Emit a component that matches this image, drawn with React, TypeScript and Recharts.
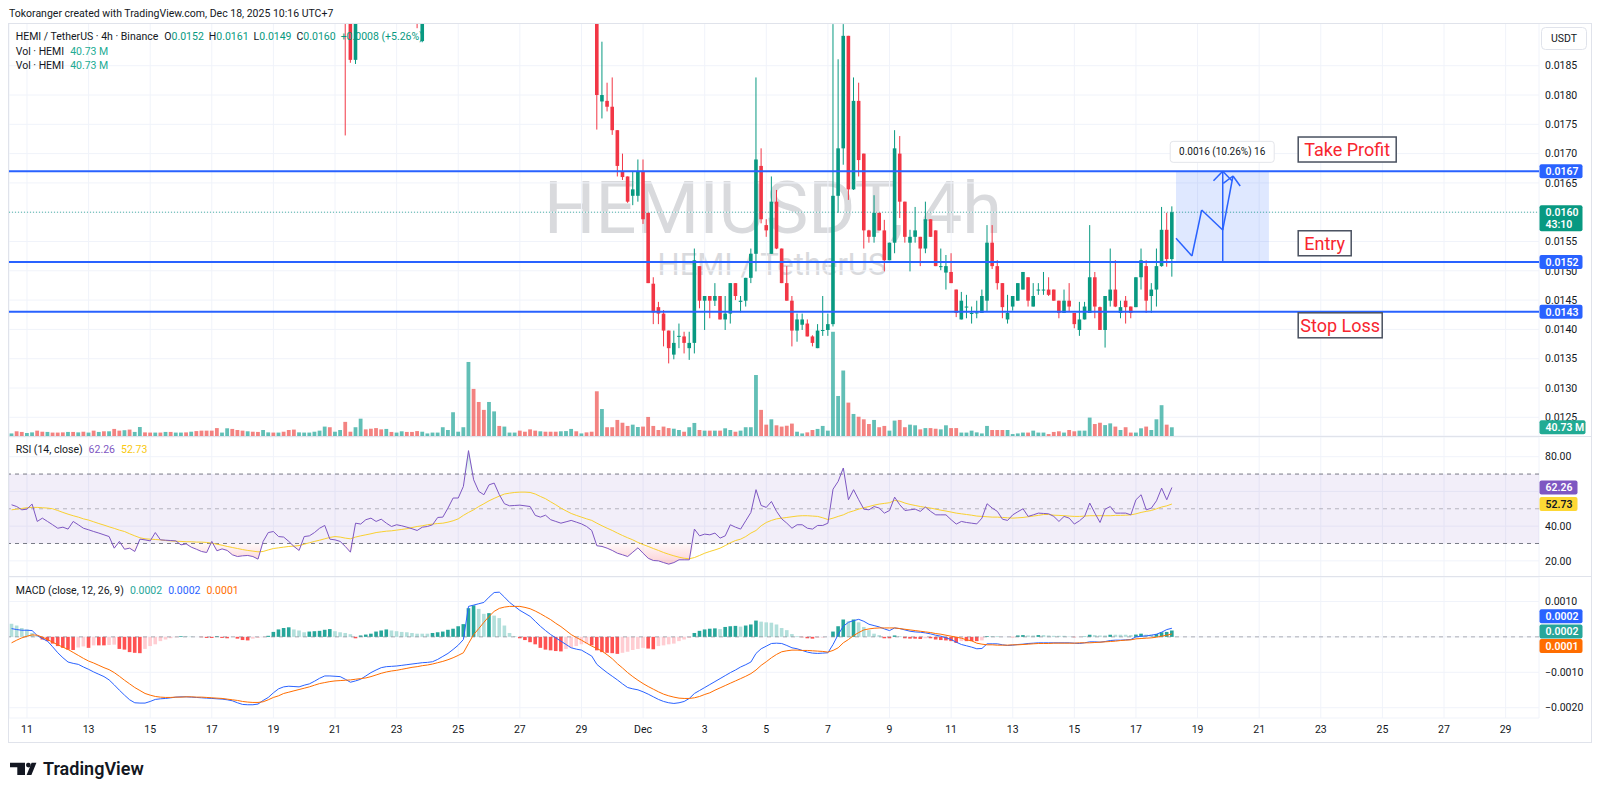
import React from 'react';
import {
  ComposedChart,
  Bar,
  Line,
  Area,
  XAxis,
  YAxis,
  CartesianGrid,
  ReferenceLine,
  ReferenceArea,
  ReferenceDot,
} from 'recharts';

const FONT = 'Roboto, "Noto Sans", Arial, sans-serif';
const INK = '#131722';
const UP = '#089981';
const DOWN = '#f23645';
const BLUE = '#2962ff';
const GRID = '#f0f3fa';
const BORDER = '#e0e3eb';

// time axis: one slot per 4h bar, slot 0 = Nov 10 15:00 (UTC+7)
const SLOTS = 298;
const dayTicks = [3, 15, 27, 39, 51, 63, 75, 87, 99, 111, 123, 135, 147, 159, 171, 183, 195, 207, 219, 231, 243, 255, 267, 279, 291];
const dayLabels = ['11', '13', '15', '17', '19', '21', '23', '25', '27', '29', 'Dec', '3', '5', '7', '9', '11', '13', '15', '17', '19', '21', '23', '25', '27', '29'];

// volume in millions, bars 0..226
const volumes = [
  12, 22, 19, 14, 17, 25, 20, 19, 16, 16,
  17, 19, 19, 17, 20, 16, 25, 19, 22, 22,
  33, 25, 27, 30, 19, 42, 17, 16, 16, 16,
  19, 19, 16, 16, 17, 20, 23, 25, 25, 25,
  37, 16, 36, 33, 28, 25, 22, 20, 19, 28,
  17, 16, 16, 20, 28, 30, 17, 16, 16, 20,
  25, 44, 41, 20, 28, 66, 20, 41, 81, 31,
  34, 37, 31, 33, 19, 16, 22, 19, 19, 23,
  20, 12, 16, 16, 41, 28, 111, 20, 41, 346,
  220, 159, 122, 159, 115, 47, 44, 16, 16, 25,
  20, 31, 25, 22, 20, 20, 20, 22, 23, 33,
  22, 12, 17, 20, 209, 126, 41, 41, 75, 62,
  47, 53, 42, 44, 89, 47, 28, 44, 37, 34,
  28, 20, 41, 61, 28, 25, 25, 25, 25, 36,
  28, 20, 25, 41, 41, 285, 122, 53, 78, 50,
  44, 48, 58, 20, 12, 17, 28, 33, 47, 25,
  487, 187, 306, 156, 103, 90, 78, 56, 75, 41,
  47, 25, 72, 75, 41, 53, 50, 31, 37, 37,
  34, 31, 50, 37, 37, 16, 16, 25, 17, 12,
  47, 28, 28, 28, 28, 9, 12, 16, 16, 25,
  16, 16, 9, 19, 22, 16, 28, 22, 25, 25,
  86, 56, 62, 51, 59, 44, 28, 41, 16, 16,
  36, 44, 28, 78, 144, 53, 40.73,
];
// u = up bar, d = down bar
const volSides =
  'udduuddudd' + 'dududududu' + 'dduduuddud' + 'uduududddd' + 'duuddduddu' +
  'ududdduuuu' + 'uuduudduud' + 'ddduduuddd' + 'uuuuuuuuuu' + 'ddduuduuud' +
  'ddduddduuu' + 'dudddudddd' + 'duuddddddu' + 'uduudududu' + 'uduuuuddud' +
  'ddduudduuu' + 'uuududddud' + 'duudduudud' + 'duudduuuuu' + 'uddduuuudu' +
  'uudddudduu' + 'udduududdu' + 'uduuudu';

// candles [open, high, low, close]; most of Nov 21-29 sits above the visible range
const earlyBarIdx = [65, 66, 67, 79, 80];
const earlyBars = [
  [0.0201, 0.0203, 0.01731, 0.0197],
  [0.0196, 0.0198, 0.01855, 0.0186],
  [0.0186, 0.0198, 0.01853, 0.0196],
  [0.0198, 0.02, 0.01914, 0.0195],
  [0.01892, 0.0199, 0.0189, 0.0197],
];
const candleFrom = 114;
const candles = [
  [0.0196, 0.0198, 0.01741, 0.018], [0.01789, 0.01891, 0.0176, 0.018], [0.0179, 0.01821, 0.01772, 0.0178],
  [0.0178, 0.0183, 0.01732, 0.0174], [0.0174, 0.0174, 0.01661, 0.01679], [0.01669, 0.017, 0.01655, 0.0166],
  [0.01661, 0.01661, 0.01616, 0.01618], [0.01628, 0.01669, 0.01612, 0.01639], [0.01628, 0.0169, 0.01618, 0.01669],
  [0.01669, 0.0169, 0.0158, 0.01588], [0.01599, 0.01599, 0.01479, 0.01479], [0.01478, 0.01489, 0.01409, 0.01429],
  [0.01438, 0.01447, 0.01409, 0.01427], [0.01427, 0.01433, 0.01371, 0.01398], [0.01398, 0.01398, 0.01342, 0.01368],
  [0.01357, 0.01398, 0.01349, 0.01377], [0.01388, 0.0141, 0.01368, 0.01389], [0.01388, 0.01396, 0.01359, 0.01377],
  [0.01368, 0.01396, 0.01348, 0.01377], [0.01377, 0.01538, 0.01359, 0.01518], [0.01508, 0.01508, 0.01436, 0.01449],
  [0.01449, 0.01457, 0.01399, 0.01457], [0.01457, 0.01457, 0.01419, 0.01449], [0.01449, 0.01479, 0.0144, 0.01457],
  [0.01457, 0.01457, 0.01417, 0.01417], [0.01417, 0.01457, 0.01399, 0.01427], [0.01427, 0.01479, 0.0141, 0.01479],
  [0.01479, 0.01479, 0.0145, 0.01457], [0.01447, 0.01457, 0.01429, 0.01449], [0.01449, 0.01488, 0.01439, 0.01488],
  [0.01488, 0.01538, 0.01479, 0.01529], [0.01529, 0.0183, 0.01499, 0.0169], [0.01679, 0.01709, 0.01581, 0.01588],
  [0.01578, 0.01588, 0.01558, 0.01569], [0.01529, 0.01661, 0.01529, 0.01618], [0.01618, 0.01638, 0.01537, 0.01538],
  [0.01538, 0.01538, 0.01479, 0.01479], [0.01479, 0.01508, 0.01449, 0.01449], [0.01449, 0.01457, 0.01371, 0.01398],
  [0.01398, 0.01427, 0.01379, 0.01417], [0.01408, 0.01427, 0.01399, 0.01417], [0.0141, 0.01417, 0.01388, 0.01388],
  [0.01388, 0.0139, 0.01371, 0.01377], [0.01368, 0.01409, 0.01368, 0.01398], [0.01398, 0.01457, 0.01389, 0.01399],
  [0.01399, 0.01427, 0.01389, 0.01409], [0.01409, 0.01921, 0.01405, 0.01628], [0.01628, 0.01861, 0.01599, 0.01709],
  [0.01709, 0.01921, 0.01681, 0.01901], [0.01901, 0.01901, 0.01621, 0.01639], [0.01639, 0.0183, 0.01638, 0.0179],
  [0.0179, 0.01821, 0.01661, 0.01689], [0.017, 0.017, 0.01538, 0.01569], [0.01569, 0.0157, 0.01548, 0.01558],
  [0.01558, 0.01629, 0.01548, 0.01599], [0.01599, 0.01599, 0.01569, 0.01569], [0.01569, 0.01587, 0.01499, 0.01518],
  [0.01518, 0.01548, 0.01518, 0.01548], [0.01548, 0.0174, 0.0153, 0.01709], [0.017, 0.0173, 0.0159, 0.01618],
  [0.01618, 0.01618, 0.01548, 0.01558], [0.01548, 0.0157, 0.01499, 0.01558], [0.01558, 0.01609, 0.01548, 0.01569],
  [0.01558, 0.01558, 0.01508, 0.01538], [0.01538, 0.01618, 0.0153, 0.01588], [0.01588, 0.01588, 0.01558, 0.01558],
  [0.01569, 0.01569, 0.01508, 0.01508], [0.01507, 0.01538, 0.01501, 0.01508], [0.01497, 0.01527, 0.01468, 0.01508],
  [0.01498, 0.0153, 0.01479, 0.01479], [0.01468, 0.01468, 0.01421, 0.01428], [0.01417, 0.01464, 0.01417, 0.01449],
  [0.01438, 0.01459, 0.01419, 0.01439], [0.01428, 0.01439, 0.0141, 0.01428], [0.01428, 0.01449, 0.01419, 0.01429],
  [0.01428, 0.01468, 0.01428, 0.01457], [0.01449, 0.01578, 0.0143, 0.01548], [0.01548, 0.01578, 0.01503, 0.01508],
  [0.01508, 0.01518, 0.01468, 0.01479], [0.01479, 0.01479, 0.01419, 0.01438], [0.01417, 0.01459, 0.0141, 0.01428],
  [0.01439, 0.01457, 0.01432, 0.01457], [0.01449, 0.01479, 0.01449, 0.01479], [0.01468, 0.01498, 0.01468, 0.01498],
  [0.01489, 0.01489, 0.01439, 0.01449], [0.01439, 0.01479, 0.01439, 0.01457], [0.01467, 0.01479, 0.01459, 0.01468],
  [0.01467, 0.01498, 0.01459, 0.01468], [0.01468, 0.01489, 0.01457, 0.01459], [0.01468, 0.01468, 0.01449, 0.01449],
  [0.01449, 0.01449, 0.01419, 0.01428], [0.01428, 0.01468, 0.01428, 0.01449], [0.01449, 0.01479, 0.0143, 0.01439],
  [0.01428, 0.01428, 0.01402, 0.01409], [0.01399, 0.01447, 0.01389, 0.01417], [0.01417, 0.01447, 0.01417, 0.01439],
  [0.01428, 0.01578, 0.01428, 0.01489], [0.01489, 0.01498, 0.01419, 0.01439], [0.01438, 0.01439, 0.01399, 0.01399],
  [0.01399, 0.01457, 0.01369, 0.01457], [0.01449, 0.01538, 0.01439, 0.01468], [0.01468, 0.01518, 0.01438, 0.01439],
  [0.01428, 0.01449, 0.01419, 0.01438], [0.01449, 0.01457, 0.0141, 0.01438], [0.01439, 0.01439, 0.01419, 0.01428],
  [0.01438, 0.01489, 0.01438, 0.01489], [0.01489, 0.01538, 0.01468, 0.01518], [0.01508, 0.01518, 0.01428, 0.01449],
  [0.01457, 0.01479, 0.01428, 0.01468], [0.01468, 0.01538, 0.01439, 0.01508], [0.01508, 0.01609, 0.01507, 0.0157],
  [0.0157, 0.01599, 0.01507, 0.0152], [0.0152, 0.0161, 0.0149, 0.016],
];

const rsi = [
  52.3, 51.3, 49.4, 49.8, 52.7, 42.7, 44.6, 42.7, 40.8, 38.8,
  39.4, 38.3, 42.7, 40.8, 38.8, 37.9, 36.9, 36.0, 35.0, 34.0,
  27.3, 31.2, 26.7, 27.3, 25.4, 32.5, 32.1, 31.5, 36.3, 32.1,
  31.9, 31.7, 31.5, 29.2, 29.8, 27.9, 26.7, 25.4, 24.8, 31.2,
  25.8, 26.9, 26.0, 23.5, 22.5, 22.9, 23.1, 22.5, 21.0, 31.2,
  36.3, 36.9, 34.0, 33.7, 31.2, 28.3, 26.0, 34.0, 34.4, 36.3,
  38.8, 40.4, 32.5, 32.1, 31.2, 28.3, 25.0, 41.7, 41.2, 43.7,
  44.6, 42.7, 44.0, 41.7, 39.8, 40.8, 40.2, 39.4, 38.5, 37.5,
  39.4, 39.8, 40.8, 45.0, 45.2, 50.4, 56.2, 56.2, 62.9, 83.5,
  66.7, 60.0, 58.1, 63.8, 64.8, 58.1, 52.9, 51.7, 51.9, 52.1,
  51.7, 51.3, 46.2, 45.2, 46.3, 43.7, 42.7, 41.7, 42.5, 43.3,
  42.3, 41.3, 39.8, 37.5, 28.7, 28.3, 27.3, 26.0, 24.4, 23.5,
  22.5, 25.0, 27.5, 24.4, 21.5, 20.2, 20.0, 19.0, 18.1, 19.0,
  20.6, 20.6, 20.6, 38.3, 34.4, 35.4, 35.0, 36.0, 33.1, 34.4,
  40.8, 39.4, 38.3, 43.1, 47.9, 61.0, 51.9, 50.8, 54.2, 48.5,
  44.2, 41.7, 38.8, 40.8, 40.8, 38.8, 38.3, 40.4, 40.4, 41.7,
  61.3, 65.8, 73.5, 55.2, 61.0, 55.2, 49.8, 49.4, 51.3, 50.4,
  47.5, 49.0, 56.7, 52.3, 49.0, 49.4, 49.8, 48.5, 51.0, 48.5,
  46.5, 46.5, 46.5, 43.7, 41.2, 42.7, 42.1, 41.7, 41.3, 44.6,
  52.9, 50.4, 48.5, 44.0, 43.3, 46.5, 48.3, 50.0, 45.6, 46.5,
  47.5, 47.3, 47.1, 45.6, 42.7, 45.6, 44.6, 41.2, 43.1, 45.6,
  53.3, 47.5, 42.1, 49.8, 51.3, 47.5, 47.5, 47.5, 46.5, 55.2,
  58.1, 49.4, 50.4, 54.6, 61.9, 55.2, 62.26,
];

const rsiMa = [
  49.4, 49.8, 50.2, 50.6, 50.8, 50.8, 50.6, 50.4, 50.0, 49.0,
  47.9, 46.9, 46.0, 45.2, 44.2, 43.5, 42.5, 41.5, 40.6, 39.6,
  38.7, 37.7, 36.9, 35.6, 34.4, 33.3, 32.7, 32.5, 32.3, 32.1,
  31.7, 31.5, 31.3, 31.2, 31.0, 31.0, 30.8, 30.8, 30.6, 30.2,
  29.6, 29.0, 28.3, 27.7, 27.1, 26.5, 26.0, 25.6, 25.2, 25.4,
  26.3, 27.1, 27.5, 27.9, 28.3, 28.5, 28.8, 29.6, 30.4, 31.2,
  31.9, 32.7, 33.5, 34.0, 33.7, 33.1, 32.7, 33.7, 34.4, 35.0,
  35.6, 36.3, 36.7, 37.1, 37.3, 37.7, 38.1, 38.5, 39.2, 39.8,
  40.2, 40.8, 41.2, 41.5, 41.7, 42.3, 43.1, 44.2, 46.2, 47.9,
  49.4, 51.3, 52.9, 54.6, 56.0, 57.3, 58.5, 59.0, 59.4, 59.6,
  59.6, 59.4, 58.5, 57.1, 55.8, 54.0, 52.3, 50.4, 48.8, 47.3,
  46.2, 45.2, 44.2, 43.3, 41.7, 40.2, 38.8, 37.5, 36.0, 34.6,
  33.3, 32.1, 30.6, 29.4, 28.3, 27.1, 26.0, 24.8, 23.8, 22.9,
  22.1, 21.5, 21.2, 21.9, 23.1, 24.4, 25.4, 26.3, 27.3, 28.8,
  30.4, 31.7, 32.5, 34.0, 36.0, 37.5, 40.2, 42.1, 43.3, 44.2,
  44.6, 45.0, 45.4, 45.8, 46.0, 46.0, 45.8, 45.6, 44.8, 43.8,
  44.6, 45.6, 46.5, 47.9, 48.8, 49.8, 50.6, 51.3, 52.1, 52.7,
  53.1, 53.5, 54.8, 54.4, 53.3, 52.5, 51.9, 51.3, 50.8, 50.4,
  49.8, 49.2, 48.7, 48.1, 47.5, 47.1, 46.7, 46.3, 45.8, 45.6,
  45.4, 45.2, 45.2, 45.0, 44.8, 44.6, 44.8, 45.0, 45.4, 45.8,
  46.2, 46.7, 46.7, 46.3, 46.2, 46.0, 45.8, 45.6, 45.6, 45.8,
  46.0, 46.0, 46.0, 46.0, 46.0, 46.2, 46.2, 46.3, 46.5, 47.1,
  47.9, 48.5, 49.0, 50.0, 51.0, 51.7, 52.73,
];

const macd = [
  0.000234, 0.000206, 0.000187, 0.000187, 0.000178, 0.000037, -0.000047, -0.000121, -0.00028, -0.000449,
  -0.000589, -0.00071, -0.000748, -0.000776, -0.00085, -0.000916, -0.000991, -0.001056, -0.001121, -0.001215,
  -0.001355, -0.001505, -0.001645, -0.001776, -0.00186, -0.001869, -0.001869, -0.001823, -0.001766, -0.001748,
  -0.001738, -0.00172, -0.001701, -0.001692, -0.001692, -0.001701, -0.00171, -0.00172, -0.001729, -0.001738,
  -0.001748, -0.001757, -0.001776, -0.001804, -0.00186, -0.001907, -0.001916, -0.001916, -0.001897, -0.001794,
  -0.00171, -0.001579, -0.001467, -0.001411, -0.001393, -0.001402, -0.001411, -0.001364, -0.001327, -0.001252,
  -0.001168, -0.001103, -0.001103, -0.001112, -0.001122, -0.001196, -0.00128, -0.001243, -0.001196, -0.001103,
  -0.001009, -0.000935, -0.000869, -0.000841, -0.000832, -0.000822, -0.000804, -0.000785, -0.000766, -0.000748,
  -0.000729, -0.00072, -0.000701, -0.000636, -0.000551, -0.000467, -0.000355, -0.000234, -0.000075, 0.00086,
  0.000897, 0.000935, 0.000972, 0.001122, 0.001252, 0.001262, 0.001122, 0.000972, 0.00086, 0.000748,
  0.000664, 0.000579, 0.000439, 0.000299, 0.000178, 0.000065, -0.000028, -0.000121, -0.000215, -0.000308,
  -0.000346, -0.000374, -0.000458, -0.000542, -0.000776, -0.000897, -0.001009, -0.001112, -0.001215, -0.001327,
  -0.00143, -0.001467, -0.001495, -0.001551, -0.001617, -0.001692, -0.001766, -0.001823, -0.00186, -0.001879,
  -0.00186, -0.001823, -0.001738, -0.001598, -0.001514, -0.00143, -0.001346, -0.001262, -0.001178, -0.001093,
  -0.001009, -0.000935, -0.00085, -0.000785, -0.00071, -0.000467, -0.000336, -0.000262, -0.000187, -0.000178,
  -0.000187, -0.000243, -0.000308, -0.000336, -0.000383, -0.00043, -0.000458, -0.000467, -0.000458, -0.000449,
  -0.000215, 0.000065, 0.000299, 0.000411, 0.000458, 0.000495, 0.000439, 0.000355, 0.000318, 0.00028,
  0.000224, 0.000178, 0.000252, 0.000234, 0.000196, 0.000159, 0.00014, 0.000131, 0.000112, 0.000084,
  0.000047, 0.000019, -0.000028, -0.000075, -0.00015, -0.000215, -0.000252, -0.00029, -0.000336, -0.000327,
  -0.000196, -0.000196, -0.000196, -0.000224, -0.000243, -0.000234, -0.000215, -0.000206, -0.000187, -0.000178,
  -0.000168, -0.000168, -0.000168, -0.000168, -0.000168, -0.000168, -0.000168, -0.000178, -0.000187, -0.000168,
  -0.00014, -0.00014, -0.00015, -0.000131, -0.000103, -0.000093, -0.000093, -0.000084, -0.000075, 0,
  0.000019, 0.000028, 0.000047, 0.000075, 0.000131, 0.000206, 0.000243,
];

const signal = [
  -0.000168, -0.000093, -0.000028, 0.000019, 0.000056, 0.000047, -0.000009, -0.000075, -0.00015, -0.000224,
  -0.00029, -0.000355, -0.000439, -0.000523, -0.000607, -0.000682, -0.000738, -0.000804, -0.000869, -0.000925,
  -0.001009, -0.001112, -0.001224, -0.001327, -0.00143, -0.001514, -0.001598, -0.001645, -0.001682, -0.001701,
  -0.00171, -0.00171, -0.001701, -0.001701, -0.001692, -0.001692, -0.001701, -0.001701, -0.00171, -0.00172,
  -0.001729, -0.001738, -0.001757, -0.001776, -0.001794, -0.001823, -0.001841, -0.001851, -0.001851, -0.001832,
  -0.001776, -0.00171, -0.001664, -0.001598, -0.001561, -0.001523, -0.001486, -0.001449, -0.001411, -0.001364,
  -0.001318, -0.00129, -0.001262, -0.001243, -0.001234, -0.001224, -0.001215, -0.001196, -0.001178, -0.001159,
  -0.001122, -0.001075, -0.001028, -0.000991, -0.000963, -0.000944, -0.000916, -0.000888, -0.00086, -0.000841,
  -0.000813, -0.000794, -0.000766, -0.000729, -0.000692, -0.000645, -0.000589, -0.000523, -0.000449, -0.000187,
  0.000065, 0.000234, 0.000411, 0.000579, 0.00072, 0.000804, 0.000841, 0.00086, 0.00086, 0.00086,
  0.000832, 0.000794, 0.000729, 0.000654, 0.00057, 0.000486, 0.000383, 0.00029, 0.000178, 0.000065,
  -0.000019, -0.000093, -0.000178, -0.000262, -0.000327, -0.000402, -0.000505, -0.000617, -0.000757, -0.000879,
  -0.001009, -0.001122, -0.001224, -0.001318, -0.001402, -0.001477, -0.001551, -0.001617, -0.001664, -0.001701,
  -0.001729, -0.001738, -0.001738, -0.00172, -0.001682, -0.001626, -0.001579, -0.001505, -0.00144, -0.001374,
  -0.001308, -0.001243, -0.001178, -0.001112, -0.001037, -0.000935, -0.000804, -0.000701, -0.000589, -0.000495,
  -0.000421, -0.000393, -0.000374, -0.000374, -0.000383, -0.000383, -0.000393, -0.000402, -0.000411, -0.00043,
  -0.000383, -0.000308, -0.000168, -0.000075, 0.000037, 0.000122, 0.000196, 0.000224, 0.000243, 0.000252,
  0.000252, 0.000252, 0.000252, 0.000234, 0.000215, 0.000196, 0.000178, 0.000159, 0.00014, 0.000122,
  0.000093, 0.000075, 0.000047, 0.000019, -0.000009, -0.000037, -0.000084, -0.000112, -0.000178, -0.000206,
  -0.000224, -0.000224, -0.000234, -0.000234, -0.000234, -0.000224, -0.000224, -0.000215, -0.000206, -0.000196,
  -0.000187, -0.000187, -0.000187, -0.000178, -0.000178, -0.000178, -0.000178, -0.000178, -0.000168, -0.000168,
  -0.000168, -0.000159, -0.00015, -0.00014, -0.000131, -0.000121, -0.000103, -0.000093, -0.000084, -0.000056,
  -0.000047, -0.000037, -0.000028, -0.000009, 0.000019, 0.000047, 0.000084,
];

const hist = [
  0.00037, 0.00032, 0.00025, 0.00021, 0.00011, 0.00002, -0.000075, -0.00012, -0.00019, -0.00026,
  -0.00031, -0.00036, -0.00037, -0.0003, -0.00027, -0.00031, -0.00024, -0.00024, -0.00024, -0.00023,
  -0.00022, -0.00034, -0.00036, -0.00043, -0.00045, -0.00046, -0.00034, -0.00026, -0.00021, -0.00012,
  -0.000075, -0.000037, -0.00001, 0.00002, 0.00002, 0.00001, 0, -0.00001, -0.00003, -0.00003,
  0.00002, -0.00003, -0.00004, 0, -0.00005, -0.00009, -0.0001, -0.00005, -0.00003, -0.00001,
  0.00003, 0.00014, 0.00021, 0.00025, 0.00027, 0.00021, 0.00018, 0.00013, 0.00015, 0.00016,
  0.00017, 0.0002, 0.00022, 0.00016, 0.00013, 0.00011, 0.000075, -0.00004, 0.00004, 0.000065,
  0.00009, 0.00015, 0.00018, 0.00021, 0.00018, 0.00016, 0.00014, 0.00013, 0.00011, 0.00009,
  0.00009, 0.00009, 0.00011, 0.00013, 0.00015, 0.0002, 0.00023, 0.0003, 0.00036, 0.00081,
  0.00089, 0.00079, 0.00065, 0.00067, 0.0006, 0.00053, 0.00032, 0.00011, 0.00002, -0.00004,
  -0.00009, -0.00015, -0.00021, -0.00031, -0.00036, -0.00038, -0.0004, -0.00041, -0.00034, -0.00031,
  -0.00026, -0.00021, -0.00019, -0.00024, -0.00038, -0.00043, -0.00045, -0.00046, -0.00048, -0.00045,
  -0.00042, -0.00037, -0.00034, -0.00031, -0.00033, -0.00035, -0.00026, -0.00024, -0.00021, -0.00019,
  -0.00012, -0.000075, -0.00003, 0.00011, 0.00017, 0.00021, 0.00023, 0.00024, 0.00022, 0.00028,
  0.0003, 0.00031, 0.00029, 0.00032, 0.00035, 0.00046, 0.00043, 0.00041, 0.0004, 0.00035,
  0.00025, 0.00019, 0.00008, 0.00002, -0.00001, -0.00004, -0.00005, -0.00003, -0.00002, 0,
  0.00015, 0.0003, 0.00049, 0.00044, 0.00049, 0.00041, 0.00028, 0.00019, 0.00009, 0.00005,
  -0.00004, -0.00004, 0.00004, 0.00002, -0.00004, -0.00005, -0.00005, -0.00006, -0.00004, -0.00004,
  -0.000075, -0.00009, -0.0001, -0.00012, -0.00017, -0.00012, -0.00012, -0.00012, -0.00012, -0.0001,
  0.00002, 0.00002, 0.00002, 0, 0, -0.00001, 0.00004, 0.00005, 0.00004, 0.00004,
  0.00005, 0.00005, 0.00004, 0.00003, 0.00003, 0.00003, 0.00001, -0.00001, 0, 0.00001,
  0.00006, 0.00005, 0.00004, 0.00004, 0.00006, 0.00006, 0.00006, 0.00006, 0.00005, 0.000065,
  0.00009, 0.000065, 0.000065, 0.00008, 0.00013, 0.00014, 0.00018,
];

const priceTicks = [0.0125, 0.013, 0.0135, 0.014, 0.0145, 0.015, 0.0155, 0.016, 0.0165, 0.017, 0.0175, 0.018, 0.0185];
const priceDomain = [0.012181, 0.019229];
const volDomain = [0, 1930];
const rsiTicks = [20, 40, 60, 80];
const rsiDomain = [10.7, 91.35];
const macdTicks = [-0.002, -0.001, 0, 0.001];
const macdDomain = [-0.00229, 0.00169];
// scale labels that sit fully under a value tag (grid line stays)
const hiddenPriceTicks = [0.016];
const hiddenRsiTicks = [60];
const hiddenMacdTicks = [0];

// trade plan drawn on the chart
const levelPrices = [0.0167, 0.01515, 0.0143];
const levelTags = ['0.0167', '0.0152', '0.0143'];
const noteTexts = ['Take Profit', 'Entry', 'Stop Loss'];
const notePrices = [0.01707, 0.01547, 0.01407];
const noteSlot = 250.6;
const rangeSlots = [226.8, 244.9];
const rangeLabel = '0.0016 (10.26%) 16';
const pathSlots = [226.8, 229.9, 231.8, 235.9, 237.9];
const pathPrices = [0.015555, 0.015253, 0.016038, 0.015696, 0.016618];

const data = Array.from({ length: SLOTS }, (_, i) => {
  const live = i < volumes.length;
  let ohlc: number[] | null = null;
  if (i >= candleFrom && i - candleFrom < candles.length) ohlc = candles[i - candleFrom];
  const e = earlyBarIdx.indexOf(i);
  if (e >= 0) ohlc = earlyBars[e];
  const h = live ? hist[i] : null;
  const hp = live && i > 0 ? hist[i - 1] : h;
  let histColor = '#b2dfdb';
  if (h != null && hp != null) {
    if (h >= 0) histColor = h > hp ? '#26a69a' : '#b2dfdb';
    else histColor = h > hp ? '#ffcdd2' : '#ff5252';
  }
  const r = live ? rsi[i] : null;
  return {
    i,
    ohlc,
    vol: live ? volumes[i] : null,
    volUp: volSides[i] === 'u',
    rsi: r,
    rsiMa: live ? rsiMa[i] : null,
    rsiLow: r == null ? null : [Math.min(r, 30), 30],
    rsiHigh: r == null ? null : [70, Math.max(r, 70)],
    macd: live ? macd[i] : null,
    signal: live ? signal[i] : null,
    hist: h,
    histColor,
  };
});

const last = candles[candles.length - 1];
const prevClose = candles[candles.length - 2][3];
const lastIdx = volumes.length - 1;
const fmtP = (v: number) => v.toFixed(4);
const fmtMacd = (v: number) => (v < 0 ? '\u2212' + Math.abs(v).toFixed(4) : v.toFixed(4));

const tickStyle = { fontSize: 10.5, fill: INK, fontFamily: FONT };

const Candle = (props: any) => {
  const { x, y, width, height, payload } = props;
  const c = payload && payload.ohlc;
  if (!c || !height) return null;
  const [o, hi, lo, cl] = c;
  const top = Math.min(y, y + height);
  const hgt = Math.abs(height);
  const k = hgt / (hi - lo);
  const py = (v: number) => top + (hi - v) * k;
  const color = cl >= o ? UP : DOWN;
  const cx = x + width / 2;
  const b1 = py(Math.max(o, cl));
  const b2 = py(Math.min(o, cl));
  return (
    <g>
      <line x1={cx} x2={cx} y1={top} y2={top + hgt} stroke={color} strokeWidth={1} />
      <rect x={cx - 1.8} y={b1} width={3.6} height={Math.max(1, b2 - b1)} fill={color} />
    </g>
  );
};

const VolBar = (props: any) => {
  const { x, y, width, height, payload } = props;
  if (!payload || payload.vol == null || !height) return null;
  const cx = x + width / 2;
  return (
    <rect
      x={cx - 1.9}
      y={Math.min(y, y + height)}
      width={3.8}
      height={Math.abs(height)}
      fill={payload.volUp ? 'rgba(38,166,154,0.72)' : 'rgba(239,83,80,0.72)'}
    />
  );
};

const HistBar = (props: any) => {
  const { x, y, width, height, payload } = props;
  if (!payload || payload.hist == null || !height) return null;
  const cx = x + width / 2;
  return <rect x={cx - 1.8} y={Math.min(y, y + height)} width={3.6} height={Math.abs(height)} fill={payload.histColor} />;
};

const AxisTag = (props: any) => {
  const { viewBox, text, sub, bg, fg = '#ffffff', w = 43, dy = 0 } = props;
  if (!viewBox) return null;
  const x = viewBox.x + (viewBox.width || 0) + 0.5;
  const cy = viewBox.y + dy;
  return (
    <g>
      <rect x={x} y={cy - 7} width={w} height={sub ? 26 : 14} rx={2} fill={bg} />
      <text x={x + 6} y={cy} dy="0.35em" fontSize={10.5} fontWeight={600} fill={fg} fontFamily={FONT}>
        {text}
      </text>
      {sub ? (
        <text x={x + 6} y={cy + 12.5} dy="0.35em" fontSize={10.5} fontWeight={600} fill={fg} fontFamily={FONT}>
          {sub}
        </text>
      ) : null}
    </g>
  );
};

const noteWidths = [98, 53, 84];

const NoteBox = ({ cx, cy, text, w }: any) => (
  <g>
    <rect x={cx} y={cy - 12.5} width={w} height={25} fill="#ffffff" stroke="#4a5160" strokeWidth={1.5} />
    <text x={cx + w / 2} y={cy} dy="0.36em" textAnchor="middle" fontSize={18} fill="#f7252f" fontFamily={FONT}>
      {text}
    </text>
  </g>
);

const RangeLabel = ({ cx, cy }: any) => (
  <g>
    <rect x={cx - 52} y={cy - 10.5} width={104} height={21} rx={3} fill="#ffffff" stroke="#e3e5ea" />
    <text x={cx} y={cy} dy="0.35em" textAnchor="middle" fontSize={10} fill={INK} fontFamily={FONT}>
      {rangeLabel}
    </text>
  </g>
);

const W = 1591;
const PLOT_LEFT = 9;
const AXIS_W = 52;

const layer = (top: number): React.CSSProperties => ({ position: 'absolute', left: 0, top });

export default function App() {
  const segs = pathSlots.slice(1).map((s, k) => [
    { x: pathSlots[k], y: pathPrices[k] },
    { x: s, y: pathPrices[k + 1] },
  ]);
  const tip = { x: pathSlots[4], y: pathPrices[4] };
  const arrowTop = { x: 235.9, y: levelPrices[0] };
  const tagMargin = { top: 0, right: AXIS_W, bottom: 0, left: PLOT_LEFT };

  return (
    <div style={{ position: 'absolute', left: 0, top: 0, width: 1600, height: 795, background: '#ffffff', overflow: 'hidden', fontFamily: FONT }}>
      {/* watermark */}
      <svg width={1600} height={795} style={{ position: 'absolute', left: 0, top: 0 }}>
        <text x={773} y={233} textAnchor="middle" fontSize={72} fill="#d9dadd" fontFamily={FONT}>
          HEMIUSDT, 4h
        </text>
        <text x={772} y={275} textAnchor="middle" fontSize={31} fill="#d9dadd" fontFamily={FONT}>
          HEMI / TetherUS
        </text>
      </svg>

      {/* price pane: grid, price scale and volume */}
      <div style={layer(23)}>
        <ComposedChart width={W} height={413} data={data} margin={{ top: 0, right: 0, bottom: 0, left: PLOT_LEFT }} barCategoryGap={0} barGap={0}>
          <CartesianGrid stroke={GRID} yAxisId="p" />
          <XAxis dataKey="i" hide ticks={dayTicks} interval={0} />
          <YAxis
            yAxisId="p"
            orientation="right"
            width={AXIS_W}
            domain={priceDomain}
            ticks={priceTicks}
            allowDataOverflow
            interval={0}
            tickLine={false}
            axisLine={false}
            tickSize={4}
            tickMargin={2}
            tick={tickStyle}
            tickFormatter={(v: number) => (hiddenPriceTicks.includes(v) ? '' : fmtP(v))}
          />
          <YAxis yAxisId="v" hide domain={volDomain} allowDataOverflow />
          <Bar yAxisId="v" dataKey="vol" shape={VolBar} isAnimationActive={false} />
        </ComposedChart>
      </div>

      {/* price pane: candles and drawings */}
      <div style={layer(23)}>
        <ComposedChart width={W} height={413} data={data} margin={tagMargin} barCategoryGap={0} barGap={0}>
          <XAxis dataKey="i" hide />
          <XAxis xAxisId="n" type="number" dataKey="i" hide domain={[-0.5, SLOTS - 0.5]} allowDataOverflow />
          <YAxis yAxisId="p" hide domain={priceDomain} allowDataOverflow />
          <YAxis yAxisId="v" hide domain={volDomain} allowDataOverflow />
          <ReferenceArea
            xAxisId="n"
            yAxisId="p"
            x1={rangeSlots[0]}
            x2={rangeSlots[1]}
            y1={levelPrices[1]}
            y2={levelPrices[0]}
            fill={BLUE}
            fillOpacity={0.15}
            stroke="none"
          />
          <Bar
            yAxisId="p"
            dataKey={(d: any) => (d.ohlc ? [d.ohlc[2], d.ohlc[1]] : null)}
            shape={Candle}
            isAnimationActive={false}
          />
          <ReferenceLine
            yAxisId="p"
            y={last[3]}
            stroke={UP}
            strokeDasharray="1 2"
            strokeOpacity={0.7}
            label={<AxisTag text={fmtP(last[3])} sub="43:10" bg={UP} />}
          />
          {levelPrices.map((p, k) => (
            <ReferenceLine
              key={'lv' + k}
              yAxisId="p"
              y={p}
              stroke={BLUE}
              strokeWidth={2}
              label={<AxisTag text={levelTags[k]} bg={BLUE} />}
            />
          ))}
          <ReferenceLine
            yAxisId="v"
            y={volumes[lastIdx]}
            stroke="none"
            label={<AxisTag text={volumes[lastIdx].toFixed(2) + ' M'} bg="#22ab94" w={46} />}
          />
          <ReferenceLine
            xAxisId="n"
            yAxisId="p"
            segment={[{ x: arrowTop.x, y: levelPrices[1] }, arrowTop]}
            stroke={BLUE}
            strokeWidth={1.5}
            ifOverflow="visible"
          />
          <ReferenceLine xAxisId="n" yAxisId="p" segment={[{ x: 234.1, y: 0.016538 }, arrowTop]} stroke={BLUE} strokeWidth={1.5} ifOverflow="visible" />
          <ReferenceLine xAxisId="n" yAxisId="p" segment={[{ x: 237.7, y: 0.016538 }, arrowTop]} stroke={BLUE} strokeWidth={1.5} ifOverflow="visible" />
          {segs.map((s, k) => (
            <ReferenceLine key={'zz' + k} xAxisId="n" yAxisId="p" segment={s} stroke={BLUE} strokeWidth={1.5} ifOverflow="visible" />
          ))}
          <ReferenceLine xAxisId="n" yAxisId="p" segment={[{ x: 236.0, y: 0.016493 }, tip]} stroke={BLUE} strokeWidth={1.5} ifOverflow="visible" />
          <ReferenceLine xAxisId="n" yAxisId="p" segment={[{ x: 239.3, y: 0.016447 }, tip]} stroke={BLUE} strokeWidth={1.5} ifOverflow="visible" />
          <ReferenceDot
            xAxisId="n"
            yAxisId="p"
            x={235.8}
            y={0.01703}
            ifOverflow="visible"
            shape={(p: any) => <RangeLabel cx={p.cx} cy={p.cy} />}
          />
          {noteTexts.map((t, k) => (
            <ReferenceDot
              key={'nt' + k}
              xAxisId="n"
              yAxisId="p"
              x={noteSlot}
              y={notePrices[k]}
              ifOverflow="visible"
              shape={(p: any) => <NoteBox cx={p.cx} cy={p.cy} text={t} w={noteWidths[k]} />}
            />
          ))}
        </ComposedChart>
      </div>

      {/* RSI pane */}
      <div style={layer(437)}>
        <ComposedChart width={W} height={140} data={data} margin={{ top: 0, right: 0, bottom: 0, left: PLOT_LEFT }}>
          <defs>
            <linearGradient id="rsiLowFill" x1="0" y1="0" x2="0" y2="1">
              <stop offset="0%" stopColor="#f23645" stopOpacity={0.05} />
              <stop offset="100%" stopColor="#f23645" stopOpacity={0.4} />
            </linearGradient>
            <linearGradient id="rsiHighFill" x1="0" y1="0" x2="0" y2="1">
              <stop offset="0%" stopColor="#089981" stopOpacity={0.4} />
              <stop offset="100%" stopColor="#089981" stopOpacity={0.05} />
            </linearGradient>
          </defs>
          <CartesianGrid stroke={GRID} />
          <XAxis dataKey="i" hide scale="band" ticks={dayTicks} interval={0} />
          <YAxis
            orientation="right"
            width={AXIS_W}
            domain={rsiDomain}
            ticks={rsiTicks}
            allowDataOverflow
            interval={0}
            tickLine={false}
            axisLine={false}
            tickSize={4}
            tickMargin={2}
            tick={tickStyle}
            tickFormatter={(v: number) => (hiddenRsiTicks.includes(v) ? '' : v.toFixed(2))}
          />
          <ReferenceArea y1={30} y2={70} fill="#7e57c2" fillOpacity={0.1} stroke="none" />
          <ReferenceLine y={70} stroke="#787b86" strokeDasharray="4 4" />
          <ReferenceLine y={50} stroke="#787b86" strokeOpacity={0.5} strokeDasharray="4 4" />
          <ReferenceLine y={30} stroke="#787b86" strokeDasharray="4 4" />
          <Area dataKey="rsiLow" stroke="none" fill="url(#rsiLowFill)" isAnimationActive={false} />
          <Area dataKey="rsiHigh" stroke="none" fill="url(#rsiHighFill)" isAnimationActive={false} />
          <Line dataKey="rsiMa" stroke="#f9d030" strokeWidth={1} dot={false} isAnimationActive={false} />
          <Line dataKey="rsi" stroke="#7e57c2" strokeWidth={1} dot={false} isAnimationActive={false} />
        </ComposedChart>
      </div>
      {/* RSI scale tags, kept above the tick labels */}
      <div style={layer(437)}>
        <ComposedChart width={W} height={140} data={data} margin={tagMargin}>
          <XAxis dataKey="i" hide scale="band" />
          <YAxis hide domain={rsiDomain} allowDataOverflow />
          <ReferenceLine y={rsi[lastIdx]} stroke="none" label={<AxisTag text={rsi[lastIdx].toFixed(2)} bg="#7e57c2" w={38} />} />
          <ReferenceLine y={rsiMa[lastIdx]} stroke="none" label={<AxisTag text={rsiMa[lastIdx].toFixed(2)} bg="#fdd835" fg={INK} w={38} />} />
        </ComposedChart>
      </div>

      {/* MACD pane with the time scale */}
      <div style={layer(577)}>
        <ComposedChart width={W} height={165} data={data} margin={{ top: 0, right: 0, bottom: 0, left: PLOT_LEFT }} barCategoryGap={0} barGap={0}>
          <CartesianGrid stroke={GRID} />
          <XAxis
            dataKey="i"
            ticks={dayTicks}
            interval={0}
            height={24}
            tickLine={false}
            axisLine={false}
            tick={tickStyle}
            tickFormatter={(v: number) => dayLabels[dayTicks.indexOf(v)] || ''}
          />
          <YAxis
            orientation="right"
            width={AXIS_W}
            domain={macdDomain}
            ticks={macdTicks}
            allowDataOverflow
            interval={0}
            tickLine={false}
            axisLine={false}
            tickSize={4}
            tickMargin={2}
            tick={tickStyle}
            tickFormatter={(v: number) => (hiddenMacdTicks.includes(v) ? '' : fmtMacd(v))}
          />
          <ReferenceLine y={0} stroke="#787b86" strokeOpacity={0.6} strokeDasharray="4 4" />
          <Bar dataKey="hist" shape={HistBar} isAnimationActive={false} />
          <Line dataKey="macd" stroke={BLUE} strokeWidth={1} dot={false} isAnimationActive={false} />
          <Line dataKey="signal" stroke="#ff6d00" strokeWidth={1} dot={false} isAnimationActive={false} />
        </ComposedChart>
      </div>
      {/* MACD scale tags, stacked so they do not overlap */}
      <div style={layer(577)}>
        <ComposedChart width={W} height={165} data={data} margin={{ ...tagMargin, bottom: 24 }}>
          <XAxis dataKey="i" hide />
          <YAxis hide domain={macdDomain} allowDataOverflow />
          <ReferenceLine y={macd[lastIdx]} stroke="none" label={<AxisTag text={fmtMacd(macd[lastIdx])} bg={BLUE} dy={-12} />} />
          <ReferenceLine y={hist[lastIdx]} stroke="none" label={<AxisTag text={fmtMacd(hist[lastIdx])} bg="#26a69a" dy={1} />} />
          <ReferenceLine y={signal[lastIdx]} stroke="none" label={<AxisTag text={fmtMacd(signal[lastIdx])} bg="#ff6d00" dy={12} />} />
        </ComposedChart>
      </div>

      {/* frame, pane separators, legends */}
      <div style={{ position: 'absolute', left: 8, top: 23, width: 1582, height: 718, border: `1px solid ${BORDER}`, pointerEvents: 'none' }} />
      <div style={{ position: 'absolute', left: 8, top: 436, width: 1583, height: 1, background: BORDER }} />
      <div style={{ position: 'absolute', left: 8, top: 576, width: 1583, height: 1, background: BORDER }} />

      <svg width={1600} height={795} style={{ position: 'absolute', left: 0, top: 0, pointerEvents: 'none' }} fontFamily={FONT}>
        <text x={9} y={17} fontSize={10.5} fill={INK}>
          Tokoranger created with TradingView.com, Dec 18, 2025 10:16 UTC+7
        </text>
        <text x={15.7} y={39.7} fontSize={10.5} fill={INK}>
          <tspan>HEMI / TetherUS · 4h · Binance</tspan>
          <tspan dx={6}>O</tspan>
          <tspan fill={UP}>{fmtP(last[0])}</tspan>
          <tspan dx={5}>H</tspan>
          <tspan fill={UP}>{fmtP(last[1])}</tspan>
          <tspan dx={5}>L</tspan>
          <tspan fill={UP}>{fmtP(last[2])}</tspan>
          <tspan dx={5}>C</tspan>
          <tspan fill={UP}>{fmtP(last[3])}</tspan>
          <tspan dx={5} fill={UP}>
            {'+' + (last[3] - prevClose).toFixed(4) + ' (+' + (((last[3] - prevClose) / prevClose) * 100).toFixed(2) + '%)'}
          </tspan>
        </text>
        <text x={15.7} y={55.4} fontSize={10.5} fill={INK}>
          <tspan>Vol · HEMI</tspan>
          <tspan dx={6} fill="#22ab94">{volumes[lastIdx].toFixed(2) + ' M'}</tspan>
        </text>
        <text x={15.7} y={69} fontSize={10.5} fill={INK}>
          <tspan>Vol · HEMI</tspan>
          <tspan dx={6} fill="#22ab94">{volumes[lastIdx].toFixed(2) + ' M'}</tspan>
        </text>
        <g>
          <rect x={1541.5} y={27.5} width={45} height={22} rx={4} fill="#ffffff" stroke={BORDER} />
          <text x={1564} y={38.5} dy="0.35em" textAnchor="middle" fontSize={10.5} fill={INK}>
            USDT
          </text>
        </g>
        <text x={15.7} y={453} fontSize={10.5} fill={INK}>
          <tspan>RSI (14, close)</tspan>
          <tspan dx={6} fill="#7e57c2">{rsi[lastIdx].toFixed(2)}</tspan>
          <tspan dx={6} fill="#f9c80e">{rsiMa[lastIdx].toFixed(2)}</tspan>
        </text>
        <text x={15.7} y={594.4} fontSize={10.5} fill={INK}>
          <tspan>MACD (close, 12, 26, 9)</tspan>
          <tspan dx={6} fill="#26a69a">{fmtMacd(hist[lastIdx])}</tspan>
          <tspan dx={6} fill={BLUE}>{fmtMacd(macd[lastIdx])}</tspan>
          <tspan dx={6} fill="#ff6d00">{fmtMacd(signal[lastIdx])}</tspan>
        </text>
        {/* TradingView logo */}
        <g fill={INK}>
          <path d="M10 762.7 H25 V775 H17.3 V767.3 H10 Z" />
          <circle cx={28.4} cy={765.1} r={2.4} />
          <path d="M31.6 762.7 H36.4 L31.4 775 H26.6 Z" />
        </g>
        <text x={43} y={775} fontSize={18} fontWeight={600} fill={INK}>
          TradingView
        </text>
      </svg>
    </div>
  );
}
